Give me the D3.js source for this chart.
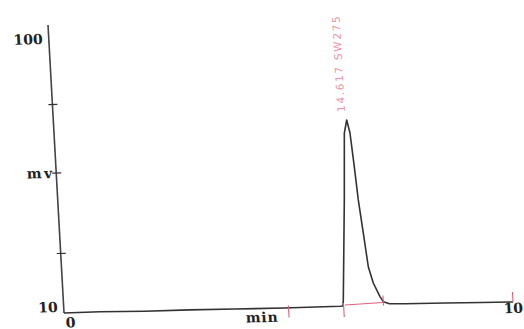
<!DOCTYPE html>
<html><head><meta charset="utf-8">
<script src="https://cdn.jsdelivr.net/npm/d3@7"></script>
<style>html,body{margin:0;padding:0;background:#fff;} svg{display:block}</style>
</head><body><svg id="c" width="524" height="329"></svg>
<script>
// Signal (retention time in min, detector response in mV)
const times = [0, 0.8, 1.8, 2.8, 3.8, 4.9, 5.6, 6.15, 6.214, 6.228, 6.374, 6.457, 6.526, 6.583, 6.637, 6.685, 6.755, 6.825, 6.916, 7.048, 7.115, 7.25, 7.6, 8.5, 9.3, 10];
const mv    = [8.0, 8.1, 7.9, 8.0, 7.9, 7.85, 7.95, 8.0, 8.04, 10.05, 43.6, 66.0, 70.4, 66.0, 54.7, 43.5, 32.4, 21.0, 15.5, 10.9, 9.15, 8.4, 8.3, 8.2, 8.1, 8.0];

const xTickValues = [0, 10];
const xTickLabels = ["0", "10"];
const xMarkTicks = [5, 10];
const yLabelValues = [10, 55, 100];
const yLabels = ["10", "mv", "100"];
const yMarkTicks = [28, 55, 78];
const xTitle = "min";

const peakStart = 6.228, peakApex = 6.526, peakEnd = 7.115;
const peakApexValue = 70.4;
const peakLabel = "14.617 SW275";
const integTimes = [6.259, 7.108];
const integValues = [8.36, 8.88];

const svg = d3.select("#c");
const W = 449, H = 288;
// scanned chart frame is slightly sheared/rotated
const g = svg.append("g").attr("transform", "matrix(1,-0.0245,0.0556,1,48,25)");

const x = d3.scaleLinear().domain([0, 10]).range([0, W]);
const y = d3.scaleLinear().domain([10, 100]).range([282, 14]);

const ink = "#333";
const pink = "#e0607c";
const font = "'DejaVu Serif', serif";

// y axis line
g.append("line").attr("x1", 0).attr("y1", 0).attr("x2", 0).attr("y2", H)
  .attr("stroke", "#444").attr("stroke-width", 1.6);

// y ticks crossing the axis
g.selectAll(".yt").data(yMarkTicks).enter().append("line")
  .attr("x1", -4).attr("x2", 5).attr("y1", d => y(d)).attr("y2", d => y(d))
  .attr("stroke", ink).attr("stroke-width", 1.2);

// y labels
const yOff = [-6, -1.5, -6];
const ySpacing = [0, 2.5, 0];
g.selectAll(".yl").data(yLabelValues).enter().append("text")
  .attr("x", (d, i) => yOff[i]).attr("y", d => y(d)).attr("dy", "0.35em")
  .attr("letter-spacing", (d, i) => ySpacing[i])
  .attr("text-anchor", "end").attr("font-family", font).attr("font-weight", "bold")
  .attr("font-size", 14).attr("fill", "#222").text((d, i) => yLabels[i]);

// signal
const line = d3.line().x((d, i) => x(times[i])).y((d, i) => y(mv[i]));
g.append("path").datum(mv).attr("d", line).attr("fill", "none")
  .attr("stroke", ink).attr("stroke-width", 1.6).attr("stroke-linejoin", "round");

// integration baseline (pink)
g.append("line").attr("x1", x(integTimes[0])).attr("y1", y(integValues[0]))
  .attr("x2", x(integTimes[1])).attr("y2", y(integValues[1]))
  .attr("stroke", pink).attr("stroke-width", 1.1);

// pink marks
const base = y(8);
g.append("line").attr("x1", x(xMarkTicks[0])).attr("x2", x(xMarkTicks[0]))
  .attr("y1", base - 2).attr("y2", base + 10).attr("stroke", pink).attr("stroke-width", 1.1);
g.append("line").attr("x1", x(xMarkTicks[1])).attr("x2", x(xMarkTicks[1]))
  .attr("y1", base - 10).attr("y2", base).attr("stroke", pink).attr("stroke-width", 1.1);
g.append("line").attr("x1", x(peakStart)).attr("x2", x(peakStart))
  .attr("y1", base - 3).attr("y2", base + 11).attr("stroke", pink).attr("stroke-width", 1.1);
g.append("line").attr("x1", x(peakEnd)).attr("x2", x(peakEnd))
  .attr("y1", y(8.9) - 7).attr("y2", y(8.9) + 3).attr("stroke", pink).attr("stroke-width", 1.1);

// x labels
const xDy = [14.5, 11];
const xDx = [6, 0];
g.selectAll(".xl").data(xTickValues).enter().append("text")
  .attr("x", (d, i) => x(d) + xDx[i]).attr("y", (d, i) => H + xDy[i])
  .attr("text-anchor", "middle").attr("font-family", font).attr("font-weight", "bold")
  .attr("font-size", 14).attr("fill", "#222").text((d, i) => xTickLabels[i]);

g.append("text").attr("x", x(5) - 27).attr("y", H + 14)
  .attr("text-anchor", "middle").attr("font-family", font).attr("font-weight", "bold")
  .attr("font-size", 14).attr("letter-spacing", 0.8).attr("fill", "#222").text(xTitle);

// peak label
g.append("text")
  .attr("transform", `translate(${x(peakApex) - 5},${y(peakApexValue) - 8}) rotate(-90)`)
  .attr("dy", "0.35em").attr("font-family", "'DejaVu Sans', sans-serif")
  .attr("font-size", 10.5).attr("letter-spacing", 1.7).attr("fill", "#ee92a4")
  .text(peakLabel);
</script></body></html>
